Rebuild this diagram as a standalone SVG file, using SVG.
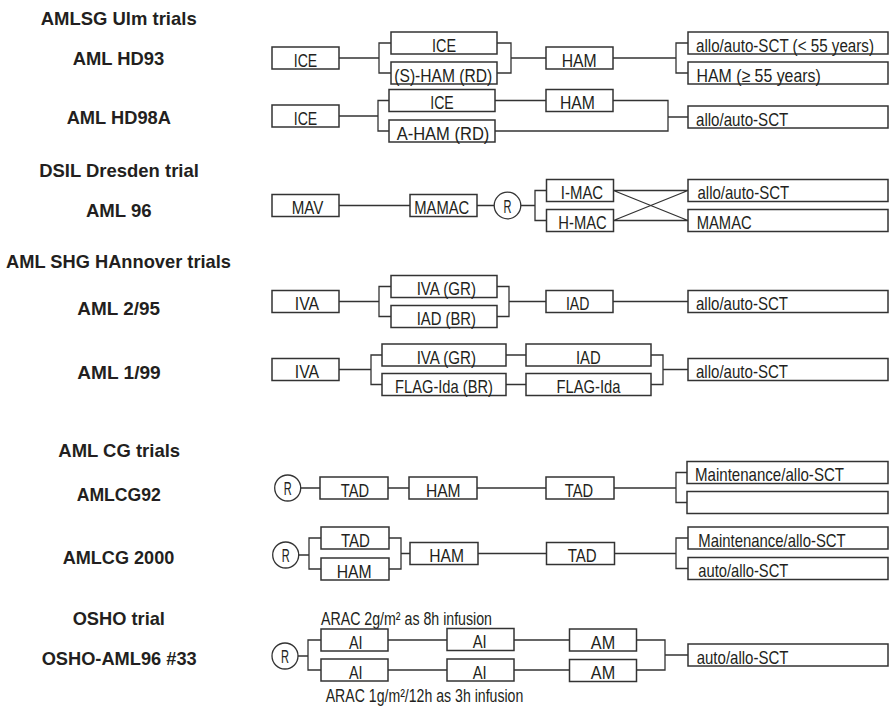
<svg xmlns="http://www.w3.org/2000/svg" width="890" height="708" viewBox="0 0 890 708">
<style>
.bg{fill:#fff}
.b{fill:#fff;stroke:#333;stroke-width:1.5}
.c{fill:none;stroke:#333;stroke-width:1.3}
.ci{fill:#fff;stroke:#333;stroke-width:1.3}
text{font-family:"Liberation Sans Narrow","Liberation Sans",Arial,sans-serif;fill:#231f20}
.t{font-size:18.5px}
.m{text-anchor:middle}
.s{font-size:17.5px}
.h{font-weight:bold;font-size:19px;text-anchor:middle}
</style>
<rect class="bg" x="0" y="0" width="890" height="708"/>
<g id="titles">
<text class="h" x="118.7" y="25" textLength="156" lengthAdjust="spacingAndGlyphs">AMLSG Ulm trials</text>
<text class="h" x="118.5" y="65" textLength="91.6" lengthAdjust="spacingAndGlyphs">AML HD93</text>
<text class="h" x="118.8" y="124.3" textLength="104.3" lengthAdjust="spacingAndGlyphs">AML HD98A</text>
<text class="h" x="119" y="176.7" textLength="159.7" lengthAdjust="spacingAndGlyphs">DSIL Dresden trial</text>
<text class="h" x="118.8" y="216.7" textLength="65.7" lengthAdjust="spacingAndGlyphs">AML 96</text>
<text class="h" x="118.5" y="268.3" textLength="225" lengthAdjust="spacingAndGlyphs">AML SHG HAnnover trials</text>
<text class="h" x="118.7" y="315" textLength="82.7" lengthAdjust="spacingAndGlyphs">AML 2/95</text>
<text class="h" x="119" y="379" textLength="83.4" lengthAdjust="spacingAndGlyphs">AML 1/99</text>
<text class="h" x="119.2" y="457.3" textLength="121.7" lengthAdjust="spacingAndGlyphs">AML CG trials</text>
<text class="h" x="118.8" y="500.7" textLength="84.3" lengthAdjust="spacingAndGlyphs">AMLCG92</text>
<text class="h" x="118.5" y="564" textLength="111.6" lengthAdjust="spacingAndGlyphs">AMLCG 2000</text>
<text class="h" x="118.8" y="625" textLength="92.3" lengthAdjust="spacingAndGlyphs">OSHO trial</text>
<text class="h" x="119.2" y="665" textLength="155" lengthAdjust="spacingAndGlyphs">OSHO-AML96 #33</text>
</g>
<g id="connectors">
<path class="c" d="M339,58H379 M391,43H379V73H391 M497,43H511V73H497 M511,58H546 M613,58H676 M688,43H676V73H688"/>
<path class="c" d="M339,116H378 M389,100.5H378V131H389 M495,100.5H546 M495,131H668V100.5H613 M668,117H688"/>
<path class="c" d="M339,205.5H410 M477,205.5H494.2 M520.8,205.5H535 M546.5,190.5H535V220.5H546.5 M613.5,190.5H688 M613.5,220.5H688 M613.5,190.5L688,220.5 M613.5,220.5L688,190.5"/>
<path class="c" d="M339,301.5H379 M391,286.5H379V316.5H391 M497,286.5H509V316.5H497 M509,301.5H546 M613,301.5H688"/>
<path class="c" d="M339,369.5H371 M382,355H371V384.5H382 M506,355H526 M506,384.5H526 M651,355H663V384.5H651 M663,369.5H688"/>
<path class="c" d="M300.7,488H320 M388,488H409 M477,488H546 M614,488H676 M687,472.5H676V502.5H687"/>
<path class="c" d="M298.7,555H309 M321,538H309V569H321 M389,538H401V569H389 M401,553.5H410 M478,553.5H546.5 M614.5,553.5H676 M688,538H676V568.5H688"/>
<path class="c" d="M298,656H308 M321,640H308V670H321 M388,640H447 M388,670H447 M514,640H569.5 M514,670H569.5 M636.5,640H665V670H636.5 M665,655H688"/>
</g>
<g id="hd93-ice"><rect class="b" x="272" y="47" width="67" height="22"/><text class="t m" x="305.5" y="66.5" textLength="23.5" lengthAdjust="spacingAndGlyphs">ICE</text></g>
<g id="hd93-ice2"><rect class="b" x="391" y="32" width="106" height="22"/><text class="t m" x="444" y="51.5" textLength="24" lengthAdjust="spacingAndGlyphs">ICE</text></g>
<g id="hd93-sham"><rect class="b" x="391" y="62" width="106" height="22"/><text class="t m" x="443.3" y="81.5" textLength="98" lengthAdjust="spacingAndGlyphs">(S)-HAM (RD)</text></g>
<g id="hd93-ham"><rect class="b" x="546" y="47" width="67" height="22"/><text class="t m" x="579.2" y="66.5" textLength="35" lengthAdjust="spacingAndGlyphs">HAM</text></g>
<g id="hd93-sct"><rect class="b" x="688" y="32" width="200" height="22"/><text class="t" transform="matrix(0.82,0,0,1,696,51.5)" x="0" y="0">allo/auto-SCT (&lt; 55 years)</text></g>
<g id="hd93-ham55"><rect class="b" x="688" y="62" width="200" height="22"/><text class="t" x="696.5" y="81.5" textLength="124.3" lengthAdjust="spacingAndGlyphs">HAM (≥ 55 years)</text></g>

<g id="hd98-ice"><rect class="b" x="272" y="105" width="67" height="22"/><text class="t m" x="305.5" y="124.5" textLength="23.5" lengthAdjust="spacingAndGlyphs">ICE</text></g>
<g id="hd98-ice2"><rect class="b" x="389" y="89.5" width="106" height="22"/><text class="t m" x="442" y="109" textLength="23.5" lengthAdjust="spacingAndGlyphs">ICE</text></g>
<g id="hd98-aham"><rect class="b" x="389" y="120" width="106" height="22"/><text class="t m" x="443" y="139.5" textLength="92.7" lengthAdjust="spacingAndGlyphs">A-HAM (RD)</text></g>
<g id="hd98-ham"><rect class="b" x="546" y="89.5" width="67" height="22"/><text class="t m" x="577.5" y="109" textLength="35" lengthAdjust="spacingAndGlyphs">HAM</text></g>
<g id="hd98-sct"><rect class="b" x="688" y="106" width="200" height="22"/><text class="t" x="696" y="125.5" textLength="92.3" lengthAdjust="spacingAndGlyphs">allo/auto-SCT</text></g>

<g id="a96-mav"><rect class="b" x="272" y="194.5" width="67" height="22"/><text class="t m" x="307.5" y="214" textLength="31.7" lengthAdjust="spacingAndGlyphs">MAV</text></g>
<g id="a96-mamac"><rect class="b" x="410" y="194.5" width="67" height="22"/><text class="t m" x="441.8" y="214" textLength="55" lengthAdjust="spacingAndGlyphs">MAMAC</text></g>
<g id="a96-r"><circle class="ci" cx="507.5" cy="205.5" r="13.3"/><text class="t m" x="507.5" y="212.5" textLength="8" lengthAdjust="spacingAndGlyphs">R</text></g>
<g id="a96-imac"><rect class="b" x="546.5" y="179.5" width="67" height="22"/><text class="t m" x="582" y="199" textLength="42.3" lengthAdjust="spacingAndGlyphs">I-MAC</text></g>
<g id="a96-hmac"><rect class="b" x="546.5" y="209.5" width="67" height="22"/><text class="t m" x="582.5" y="229" textLength="48.3" lengthAdjust="spacingAndGlyphs">H-MAC</text></g>
<g id="a96-sct"><rect class="b" x="688" y="179.5" width="200" height="22"/><text class="t" x="697.5" y="199" textLength="91.7" lengthAdjust="spacingAndGlyphs">allo/auto-SCT</text></g>
<g id="a96-mamac2"><rect class="b" x="688" y="209.5" width="200" height="22"/><text class="t" x="696.7" y="229" textLength="55" lengthAdjust="spacingAndGlyphs">MAMAC</text></g>

<g id="a295-iva"><rect class="b" x="272" y="290.5" width="67" height="22"/><text class="t m" x="307" y="310" textLength="24.3" lengthAdjust="spacingAndGlyphs">IVA</text></g>
<g id="a295-ivagr"><rect class="b" x="391" y="275.5" width="106" height="22"/><text class="t m" x="446.3" y="295" textLength="59.3" lengthAdjust="spacingAndGlyphs">IVA (GR)</text></g>
<g id="a295-iadbr"><rect class="b" x="391" y="305.5" width="106" height="22"/><text class="t m" x="446.3" y="325" textLength="59.3" lengthAdjust="spacingAndGlyphs">IAD (BR)</text></g>
<g id="a295-iad"><rect class="b" x="546" y="290.5" width="67" height="22"/><text class="t m" x="577.7" y="310" textLength="23.5" lengthAdjust="spacingAndGlyphs">IAD</text></g>
<g id="a295-sct"><rect class="b" x="688" y="290.5" width="200" height="22"/><text class="t" x="696" y="310" textLength="92" lengthAdjust="spacingAndGlyphs">allo/auto-SCT</text></g>

<g id="a199-iva"><rect class="b" x="272" y="358.5" width="67" height="22"/><text class="t m" x="307" y="378" textLength="24.3" lengthAdjust="spacingAndGlyphs">IVA</text></g>
<g id="a199-ivagr"><rect class="b" x="382" y="344" width="124" height="22"/><text class="t m" x="446.3" y="363.5" textLength="59.3" lengthAdjust="spacingAndGlyphs">IVA (GR)</text></g>
<g id="a199-flagbr"><rect class="b" x="382" y="373.5" width="124" height="22"/><text class="t m" x="444" y="393" textLength="98" lengthAdjust="spacingAndGlyphs">FLAG-Ida (BR)</text></g>
<g id="a199-iad"><rect class="b" x="526" y="344" width="125" height="22"/><text class="t m" x="588.3" y="363.5" textLength="24.7" lengthAdjust="spacingAndGlyphs">IAD</text></g>
<g id="a199-flag"><rect class="b" x="526" y="373.5" width="125" height="22"/><text class="t m" x="588.5" y="393" textLength="64" lengthAdjust="spacingAndGlyphs">FLAG-Ida</text></g>
<g id="a199-sct"><rect class="b" x="688" y="358.5" width="200" height="22"/><text class="t" x="696" y="378" textLength="92" lengthAdjust="spacingAndGlyphs">allo/auto-SCT</text></g>

<g id="cg92-r"><circle class="ci" cx="287.7" cy="488" r="13"/><text class="t m" x="287.7" y="494.5" textLength="8" lengthAdjust="spacingAndGlyphs">R</text></g>
<g id="cg92-tad"><rect class="b" x="320" y="477" width="68" height="22"/><text class="t m" x="355" y="496.5" textLength="28.3" lengthAdjust="spacingAndGlyphs">TAD</text></g>
<g id="cg92-ham"><rect class="b" x="409" y="477" width="68" height="22"/><text class="t m" x="443.3" y="496.5" textLength="34.7" lengthAdjust="spacingAndGlyphs">HAM</text></g>
<g id="cg92-tad2"><rect class="b" x="546" y="477" width="68" height="22"/><text class="t m" x="579" y="496.5" textLength="28.3" lengthAdjust="spacingAndGlyphs">TAD</text></g>
<g id="cg92-maint"><rect class="b" x="687" y="461.5" width="201" height="22"/><text class="t" x="695" y="481" textLength="149" lengthAdjust="spacingAndGlyphs">Maintenance/allo-SCT</text></g>
<g id="cg92-empty"><rect class="b" x="687" y="491.5" width="201" height="22"/></g>

<g id="cg2000-r"><circle class="ci" cx="285.7" cy="555" r="13"/><text class="t m" x="285.7" y="561.5" textLength="8" lengthAdjust="spacingAndGlyphs">R</text></g>
<g id="cg2000-tad"><rect class="b" x="321" y="527" width="68" height="22"/><text class="t m" x="355.5" y="546.5" textLength="29" lengthAdjust="spacingAndGlyphs">TAD</text></g>
<g id="cg2000-ham"><rect class="b" x="321" y="558" width="68" height="22"/><text class="t m" x="354.2" y="577.5" textLength="35" lengthAdjust="spacingAndGlyphs">HAM</text></g>
<g id="cg2000-ham2"><rect class="b" x="410" y="542.5" width="68" height="22"/><text class="t m" x="446.7" y="562" textLength="34.7" lengthAdjust="spacingAndGlyphs">HAM</text></g>
<g id="cg2000-tad2"><rect class="b" x="546.5" y="542.5" width="68" height="22"/><text class="t m" x="582.2" y="562" textLength="29" lengthAdjust="spacingAndGlyphs">TAD</text></g>
<g id="cg2000-maint"><rect class="b" x="688" y="527" width="200" height="22"/><text class="t" x="698.3" y="546.5" textLength="147.4" lengthAdjust="spacingAndGlyphs">Maintenance/allo-SCT</text></g>
<g id="cg2000-sct"><rect class="b" x="688" y="557.5" width="200" height="22"/><text class="t" x="698.3" y="577" textLength="90" lengthAdjust="spacingAndGlyphs">auto/allo-SCT</text></g>

<g id="osho-label1"><text class="s" x="321" y="624.5" textLength="171" lengthAdjust="spacingAndGlyphs">ARAC 2g/m² as 8h infusion</text></g>
<g id="osho-r"><circle class="ci" cx="285" cy="656" r="13"/><text class="t m" x="285" y="662.5" textLength="8" lengthAdjust="spacingAndGlyphs">R</text></g>
<g id="osho-ai1"><rect class="b" x="321" y="629" width="67" height="22"/><text class="t m" x="355.8" y="648.5" textLength="13.7" lengthAdjust="spacingAndGlyphs">AI</text></g>
<g id="osho-ai2"><rect class="b" x="321" y="659" width="67" height="22"/><text class="t m" x="355.8" y="678.5" textLength="13.7" lengthAdjust="spacingAndGlyphs">AI</text></g>
<g id="osho-ai3"><rect class="b" x="447" y="628.5" width="67" height="22"/><text class="t m" x="479.7" y="648" textLength="14" lengthAdjust="spacingAndGlyphs">AI</text></g>
<g id="osho-ai4"><rect class="b" x="447" y="659" width="67" height="22"/><text class="t m" x="479.7" y="678.5" textLength="14" lengthAdjust="spacingAndGlyphs">AI</text></g>
<g id="osho-am1"><rect class="b" x="569.5" y="629" width="67" height="22"/><text class="t m" x="603" y="648.5" textLength="24.3" lengthAdjust="spacingAndGlyphs">AM</text></g>
<g id="osho-am2"><rect class="b" x="569.5" y="659.5" width="67" height="22"/><text class="t m" x="603" y="679" textLength="24.3" lengthAdjust="spacingAndGlyphs">AM</text></g>
<g id="osho-sct"><rect class="b" x="688" y="644" width="200" height="22"/><text class="t" x="696.7" y="663.5" textLength="91.7" lengthAdjust="spacingAndGlyphs">auto/allo-SCT</text></g>
<g id="osho-label2"><text class="s" x="325.7" y="701.5" textLength="197.6" lengthAdjust="spacingAndGlyphs">ARAC 1g/m²/12h as 3h infusion</text></g>
</svg>
